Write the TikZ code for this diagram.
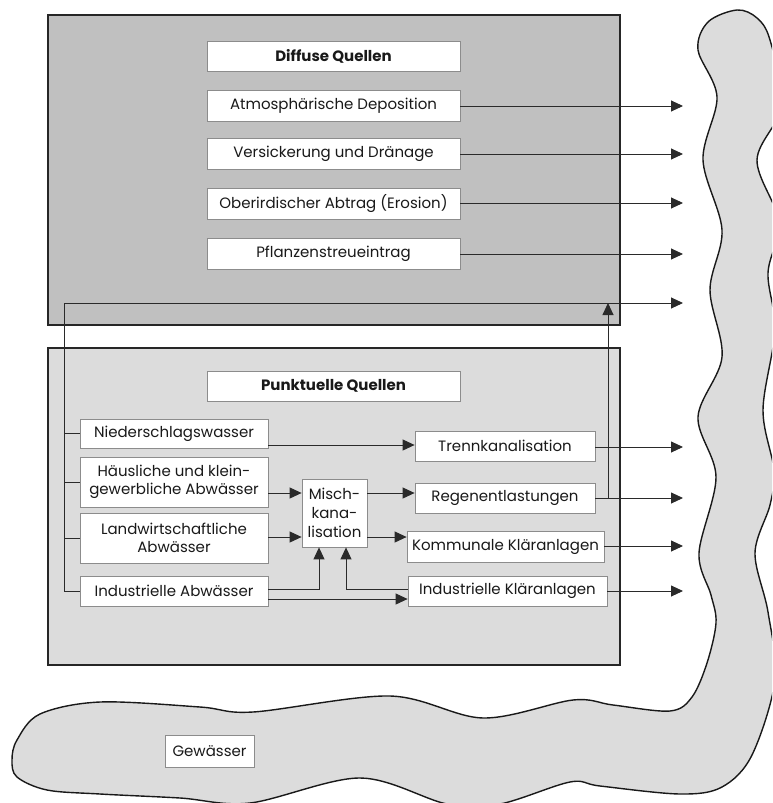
\documentclass[tikz,border=0pt]{standalone}
\usepackage{fontspec}
\setmainfont{Poppins}
\usetikzlibrary{arrows.meta,calc}
\definecolor{darkbox}{HTML}{C0C0C0}
\definecolor{lightbox}{HTML}{DCDCDC}
\definecolor{linecol}{HTML}{2A2A2A}
\definecolor{boxedge}{HTML}{8C8C8C}
\begin{document}
\begin{tikzpicture}[x=1pt,y=-1pt,
  lab/.style={draw=boxedge, line width=0.8pt, fill=white, inner sep=0pt, align=center,
              font=\fontsize{15}{18}\selectfont, text=black!90},
  panel/.style={draw=black!85, line width=1.6pt},
  conn/.style={draw=linecol, line width=0.9pt},
  arr/.style={conn, -{Triangle[length=12pt,width=11pt]}},
  river/.style={draw=black!90, line width=1.4pt, fill=lightbox}]
\useasboundingbox (0,0) rectangle (772,803);
% river
\begin{scope}
\clip (0,0) rectangle (772,803);
\path[river] plot[smooth cycle, tension=0.55] coordinates {
 (737,10) (757,18) (770,40) (782,105) (757,160) (779,222) (768,273) (775,330)
 (763,410) (774,470) (770,505) (755,553) (768,612) (775,680) (752,755) (722,787)
 (680,794) (600,786) (570,782) (500,804) (447,804) (360,778) (250,803) (180,798)
 (100,794) (47,790) (17,777) (12,760) (17,740) (40,714) (100,702) (200,707)
 (253,712) (390,696) (483,718) (573,700) (613,705) (670,711) (692,697) (707,663)
 (716,623) (711,595) (699,553) (716,477) (698,417) (722,357) (710,290) (722,230)
 (703,160) (717,97) (698,50) (708,22)};
\end{scope}
% panels
\path[panel, fill=darkbox] (48,15) rectangle (620,325);
\path[panel, fill=lightbox] (48,348) rectangle (620,665);
% diffuse sources
\node[lab, minimum width=253, minimum height=30] (dq) at (333.5,56) {\bfseries Diffuse Quellen};
\node[lab, minimum width=253, minimum height=31] (atm) at (333.5,105.5) {Atmosphärische Deposition};
\node[lab, minimum width=253, minimum height=31] (vers) at (333.5,154) {Versickerung und Dränage};
\node[lab, minimum width=253, minimum height=31] (ober) at (333.5,203.5) {Oberirdischer Abtrag (Erosion)};
\node[lab, minimum width=253, minimum height=31] (pfl) at (333.5,253.5) {Pflanzenstreueintrag};
% point sources
\node[lab, minimum width=253, minimum height=30] (pq) at (333.5,386) {\bfseries Punktuelle Quellen};
\node[lab, minimum width=188, minimum height=29] (nied) at (174,433.5) {Niederschlagswasser};
\node[lab, minimum width=188, minimum height=50] (haus) at (174,482) {Häusliche und klein-\\gewerbliche Abwässer};
\node[lab, minimum width=188, minimum height=50] (land) at (174,538) {Landwirtschaftliche\\Abwässer};
\node[lab, minimum width=188, minimum height=30] (ind) at (174,591) {Industrielle Abwässer};
\node[lab, minimum width=65, minimum height=68, font=\fontsize{15}{19}\selectfont] (misch) at (334.5,513) {Misch-\\kana-\\lisation};
\node[lab, minimum width=180, minimum height=30] (trenn) at (505,446) {Trennkanalisation};
\node[lab, minimum width=180, minimum height=30] (regen) at (505,498) {Regenentlastungen};
\node[lab, minimum width=197, minimum height=31] (komm) at (505.5,546.5) {Kommunale Kläranlagen};
\node[lab, minimum width=199, minimum height=30] (ika) at (507.5,591) {Industrielle Kläranlagen};
\node[lab, minimum width=89, minimum height=32] (gew) at (209.5,751) {Gewässer};
% coordinates
\coordinate (bus) at (64,303);
\coordinate (r1) at (683,106);
\coordinate (r2) at (683,154);
\coordinate (r3) at (683,203);
\coordinate (r4) at (683,254);
\coordinate (r5) at (683,303);
\coordinate (r6) at (683,447);
\coordinate (r7) at (683,498);
\coordinate (r8) at (683,546);
\coordinate (r9) at (683,591);
\coordinate (yN) at (0,445);
\coordinate (yA) at (0,493);
\coordinate (yB) at (0,537);
\coordinate (yC) at (0,589);
\coordinate (yD) at (0,599);
\coordinate (ua) at (319,589);
\coordinate (ub) at (346,589);
\coordinate (rj) at (608,498);
% diffuse arrows
\draw[arr] (atm.east |- r1) -- (r1);
\draw[arr] (vers.east |- r2) -- (r2);
\draw[arr] (ober.east |- r3) -- (r3);
\draw[arr] (pfl.east |- r4) -- (r4);
% left bus
\draw[arr] (ind.west) -| (bus) -- (r5);
\draw[conn] (nied.west) -- (nied.west -| bus);
\draw[conn] (haus.west) -- (haus.west -| bus);
\draw[conn] (land.west) -- (land.west -| bus);
% inner connectors
\draw[arr] (nied.east |- yN) -- (trenn.west |- yN);
\draw[arr] (haus.east |- yA) -- (misch.west |- yA);
\draw[arr] (land.east |- yB) -- (misch.west |- yB);
\draw[arr] (misch.east |- yA) -- (regen.west |- yA);
\draw[arr] (misch.east |- yB) -- (komm.west |- yB);
\draw[arr] (ind.east |- yC) -- (ua) -- (ua |- misch.south);
\draw[arr] (ind.east |- yD) -- (ika.west |- yD);
\draw[arr] (ika.west |- yC) -- (ub) -- (ub |- misch.south);
\draw[arr] (rj) -- (rj |- bus);
% outputs
\draw[arr] (trenn.east |- r6) -- (r6);
\draw[arr] (regen.east |- r7) -- (r7);
\draw[arr] (komm.east |- r8) -- (r8);
\draw[arr] (ika.east |- r9) -- (r9);
\end{tikzpicture}
\end{document}
